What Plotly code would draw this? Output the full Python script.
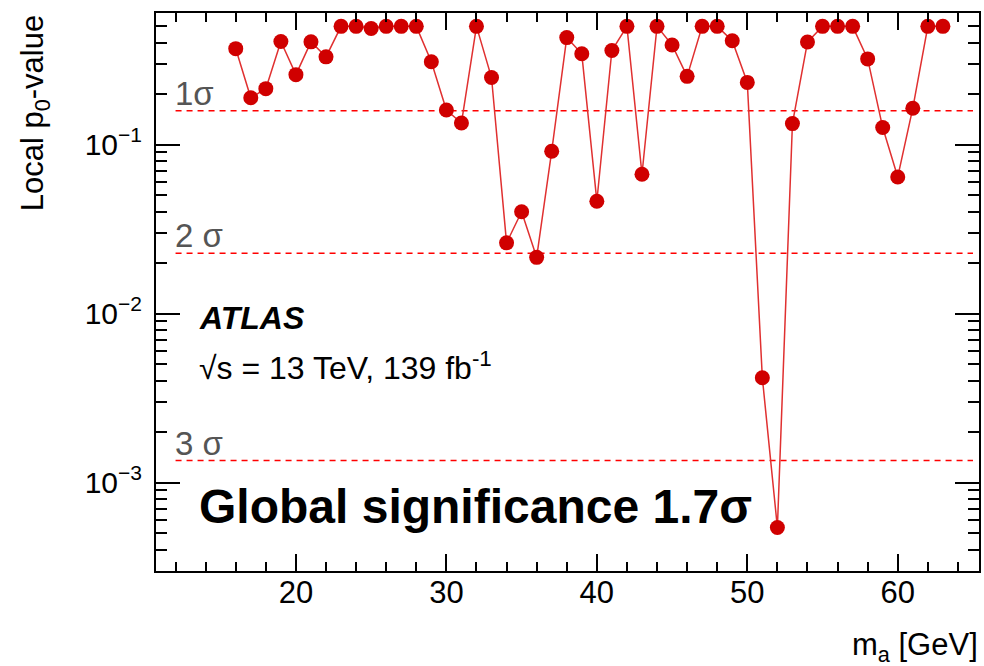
import math
import plotly.graph_objects as go

# ---- data ----
mass = list(range(16, 64))
p0 = [0.369, 0.189, 0.214, 0.407, 0.259, 0.405, 0.330, 0.50, 0.50, 0.486,
      0.50, 0.50, 0.50, 0.309, 0.160, 0.134, 0.50, 0.249, 0.0262, 0.040,
      0.0215, 0.0913, 0.429, 0.344, 0.0462, 0.360, 0.50, 0.0667, 0.50, 0.388,
      0.253, 0.50, 0.50, 0.411, 0.233, 0.00417, 0.000542, 0.133, 0.404, 0.50,
      0.50, 0.50, 0.321, 0.126, 0.0643, 0.164, 0.50, 0.50]
sigma_labels = ["1σ", "2 σ", "3 σ"]
sigma_pvals = [0.158655, 0.0227501, 0.0013499]
sigma_x = [12, 65]
x_ticks = [20, 30, 40, 50, 60]
y_ticks = [1e-3, 1e-2, 1e-1]
y_ticktext = ["10<sup>−3</sup>", "10<sup>−2</sup>", "10<sup>−1</sup>"]

FONT = "Liberation Sans, Arial, Helvetica, sans-serif"
W, H = 984, 666
L, R, T, B = 156, 3, 13, 95
pw, ph = W - L - R, H - T - B


def px(x):
    return (x - L) / pw


def py(y):
    return (H - B - y) / ph


fig = go.Figure()

for pv in sigma_pvals:
    fig.add_trace(go.Scatter(x=sigma_x, y=[pv, pv], mode="lines",
                             line=dict(color="#ff0000", width=1.5, dash="6px,5px"),
                             hoverinfo="skip", showlegend=False))

fig.add_trace(go.Scatter(x=mass, y=p0, mode="lines+markers",
                         line=dict(color="#e03030", width=1.5),
                         marker=dict(color="#d00000", size=15),
                         showlegend=False))

annotations = []
for lab, pv in zip(sigma_labels, sigma_pvals):
    annotations.append(dict(x=11.85, y=math.log10(pv), xref="x", yref="y",
                            text=lab, showarrow=False, xanchor="left", yanchor="bottom",
                            yshift=-3,
                            font=dict(family=FONT, size=33, color="#555555")))

annotations += [
    dict(x=px(197), y=py(318), xref="paper", yref="paper", text="<b><i>ATLAS</i></b>",
         showarrow=False, xanchor="left", yanchor="middle",
         font=dict(family=FONT, size=32, color="black")),
    dict(x=px(197), y=py(366), xref="paper", yref="paper",
         text="√s = 13 TeV, 139 fb<sup>-1</sup>",
         showarrow=False, xanchor="left", yanchor="middle",
         font=dict(family=FONT, size=32, color="black")),
    dict(x=px(197), y=py(506), xref="paper", yref="paper",
         text="<b>Global significance 1.7σ</b>",
         showarrow=False, xanchor="left", yanchor="middle",
         font=dict(family=FONT, size=48, color="black")),
    dict(x=px(35), y=py(13), xref="paper", yref="paper",
         text="Local p<sub>0</sub>-value", textangle=-90,
         showarrow=False, xanchor="center", yanchor="top",
         font=dict(family=FONT, size=31, color="black")),
    dict(x=px(982), y=py(647), xref="paper", yref="paper",
         text="m<sub>a</sub> [GeV]",
         showarrow=False, xanchor="right", yanchor="middle",
         font=dict(family=FONT, size=31, color="black")),
]

fig.update_layout(
    width=W, height=H,
    margin=dict(l=L, r=R, t=T, b=B),
    paper_bgcolor="white", plot_bgcolor="white",
    annotations=annotations,
    font=dict(family=FONT, size=31, color="black"),
)

fig.update_xaxes(range=[10.7, 65.4], tickvals=x_ticks, ticks="inside", ticklen=17,
                 tickwidth=1.5, tickcolor="black",
                 minor=dict(dtick=2, tick0=0, ticks="inside", ticklen=9,
                            tickwidth=1.5, tickcolor="black", showgrid=False),
                 showline=True, linewidth=2, linecolor="black", mirror="ticks",
                 showgrid=False, zeroline=False, ticklabelstandoff=-7,
                 tickfont=dict(family=FONT, size=31))

minor_y = [m * 10 ** e for e in range(-4, 0) for m in range(2, 10)]
fig.update_yaxes(type="log", range=[-3.523, -0.222], tickvals=y_ticks, ticktext=y_ticktext,
                 ticks="inside", ticklen=24, tickwidth=1.5, tickcolor="black",
                 minor=dict(tickvals=minor_y, ticks="inside", ticklen=11,
                            tickwidth=1.5, tickcolor="black", showgrid=False),
                 showline=True, linewidth=2, linecolor="black", mirror="ticks",
                 showgrid=False, zeroline=False, ticklabelstandoff=6,
                 tickfont=dict(family=FONT, size=30))

fig.write_html("out.html")
